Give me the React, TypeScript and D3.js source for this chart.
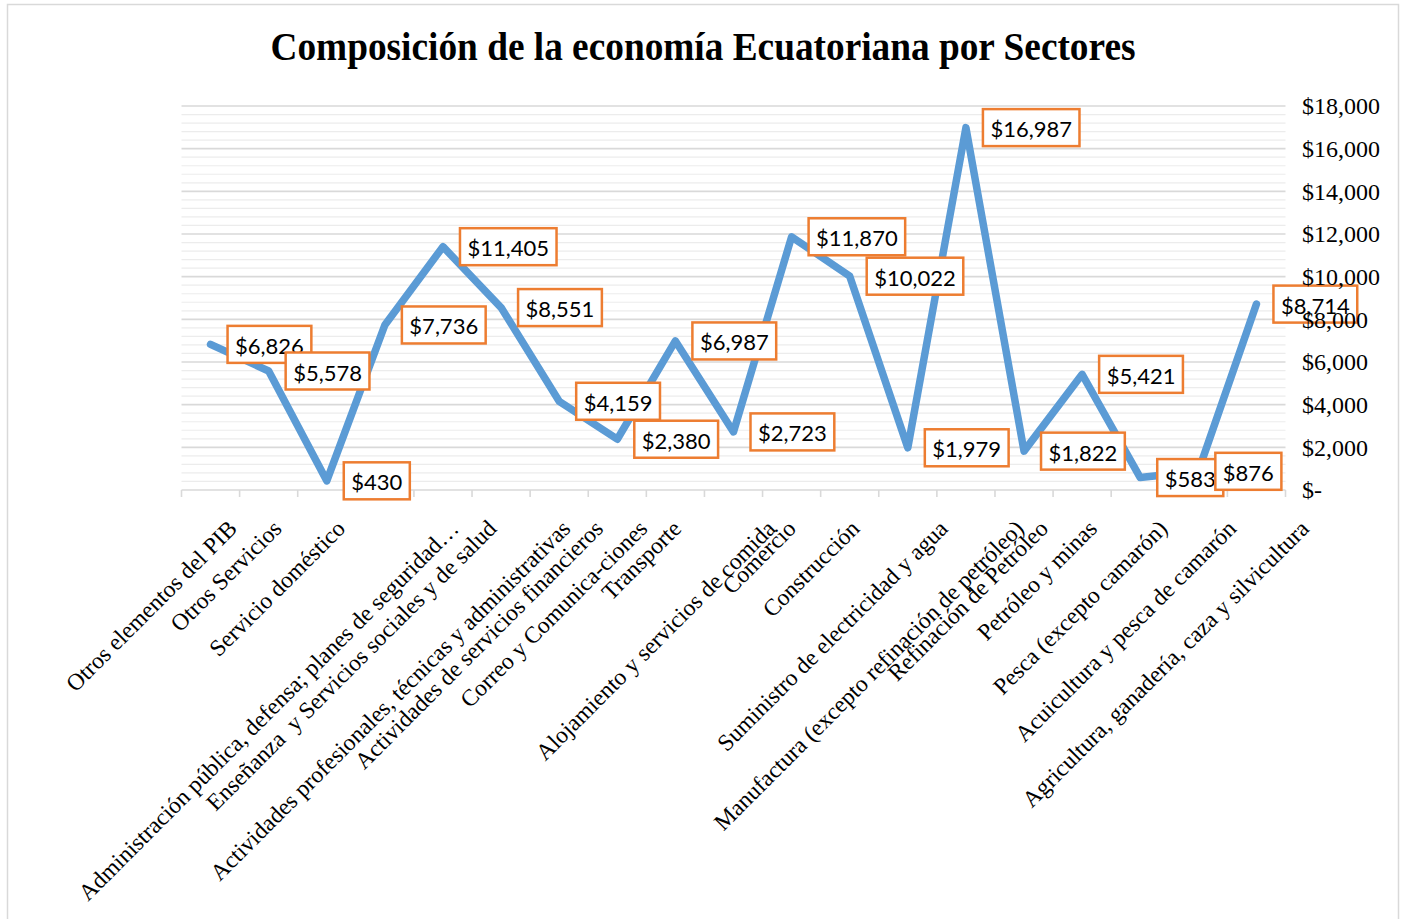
import React, { useEffect, useRef } from 'react';
import * as d3 from 'd3';

const categories = [
    'Otros elementos del PIB',
    'Otros Servicios',
    'Servicio doméstico',
    'Administración pública, defensa; planes de seguridad…',
    'Enseñanza  y Servicios sociales y de salud',
    'Actividades profesionales, técnicas y administrativas',
    'Actividades de servicios financieros',
    'Correo y Comunica-ciones',
    'Transporte',
    'Alojamiento y servicios de comida',
    'Comercio',
    'Construcción',
    'Suministro de electricidad y agua',
    'Manufactura (excepto refinación de petróleo)',
    'Refinación de Petróleo',
    'Petróleo y minas',
    'Pesca (excepto camarón)',
    'Acuicultura y pesca de camarón',
    'Agricultura, ganadería, caza y silvicultura'
];

const values = [6826, 5578, 430, 7736, 11405, 8551, 4159, 2380, 6987, 2723, 11870, 10022, 1979, 16987, 1822, 5421, 583, 876, 8714];

const yTicks = [0, 2000, 4000, 6000, 8000, 10000, 12000, 14000, 16000, 18000];

const title = 'Composición de la economía Ecuatoriana por Sectores';

const App = () => {
    const svgRef = useRef(null);

    useEffect(() => {
        if (!svgRef.current) return;
        const svg = d3.select(svgRef.current);
        svg.selectAll('*').remove();

        const left = 181.5, right = 1285.5, top = 106, bottom = 490;

        const x = d3.scaleBand().domain(categories).range([left, right]);
        const y = d3.scaleLinear().domain([0, 18000]).range([bottom, top]);
        const cx = d => x(d) + x.bandwidth() / 2;

        // chart frame
        svg.append('rect')
            .attr('x', 7.5).attr('y', 4.5)
            .attr('width', 1391).attr('height', 920)
            .attr('fill', 'white')
            .attr('stroke', '#d9d9d9')
            .attr('stroke-width', 1.5);

        svg.append('text')
            .attr('x', 703).attr('y', 60)
            .attr('text-anchor', 'middle')
            .attr('font-family', '"Liberation Serif", "Times New Roman", serif')
            .attr('font-weight', 'bold')
            .attr('font-size', 40)
            .attr('textLength', 865)
            .attr('lengthAdjust', 'spacingAndGlyphs')
            .attr('fill', '#000')
            .text(title);

        // minor gridlines
        const minor = d3.range(0, 18001, 400).filter(v => v % 2000 !== 0);
        svg.append('g').selectAll('line')
            .data(minor)
            .enter().append('line')
            .attr('x1', left).attr('x2', right)
            .attr('y1', d => y(d)).attr('y2', d => y(d))
            .attr('stroke', '#ececec')
            .attr('stroke-width', 1.2);

        // major gridlines
        svg.append('g').selectAll('line')
            .data(yTicks)
            .enter().append('line')
            .attr('x1', left).attr('x2', right)
            .attr('y1', d => y(d)).attr('y2', d => y(d))
            .attr('stroke', '#d9d9d9')
            .attr('stroke-width', 1.6);

        // category ticks
        const tickPos = categories.map(c => x(c)).concat([right]);
        svg.append('g').selectAll('line')
            .data(tickPos)
            .enter().append('line')
            .attr('x1', d => d).attr('x2', d => d)
            .attr('y1', bottom).attr('y2', bottom + 7)
            .attr('stroke', '#d9d9d9')
            .attr('stroke-width', 1.6);

        // category labels, rotated like excel does it
        const xl = svg.append('g');
        categories.forEach(c => {
            const t = xl.append('text')
                .attr('text-anchor', 'end')
                .attr('font-family', '"Liberation Serif", "Times New Roman", serif')
                .attr('font-size', 23.5)
                .attr('fill', '#000')
                .style('white-space', 'pre')
                .text(c);
            const L = t.node().getComputedTextLength();
            t.attr('transform', `translate(${cx(c) + 0.16 * L - 9},${530}) rotate(-45)`);
        });

        // line
        const line = d3.line()
            .x((d, i) => cx(categories[i]))
            .y(d => y(d));

        svg.append('path')
            .datum(values)
            .attr('d', line)
            .attr('fill', 'none')
            .attr('stroke', '#5b9bd5')
            .attr('stroke-width', 7.5)
            .attr('stroke-linejoin', 'round')
            .attr('stroke-linecap', 'round');

        // data labels
        const fmt = d3.format(',');
        const dl = svg.append('g');
        values.forEach((v, i) => {
            const px = cx(categories[i]);
            const py = y(v);
            const g = dl.append('g');
            const rect = g.append('rect');
            const t = g.append('text')
                .attr('font-family', 'Lato, "Open Sans", sans-serif')
                .attr('font-size', 22)
                .attr('fill', '#000')
                .attr('dominant-baseline', 'central')
                .text('$' + fmt(v));
            const w = t.node().getComputedTextLength();
            rect.attr('x', px + 17).attr('y', py - 18.5)
                .attr('width', w + 15).attr('height', 37)
                .attr('fill', 'white')
                .attr('stroke', '#ed7d31')
                .attr('stroke-width', 2.5);
            t.attr('x', px + 17 + 7.5).attr('y', py + 1);
        });

        // value axis labels (right side)
        svg.append('g').selectAll('text')
            .data(yTicks)
            .enter().append('text')
            .attr('x', 1302)
            .attr('y', d => y(d))
            .attr('dy', '0.35em')
            .attr('font-family', '"Liberation Serif", "Times New Roman", serif')
            .attr('font-size', 24)
            .attr('fill', '#000')
            .text(d => d === 0 ? '$-' : '$' + fmt(d));
    }, []);

    return (
        <svg
            ref={svgRef}
            width={1408}
            height={919}
            style={{ position: 'absolute', left: 0, top: 0, display: 'block' }}
        />
    );
};

export default App;
